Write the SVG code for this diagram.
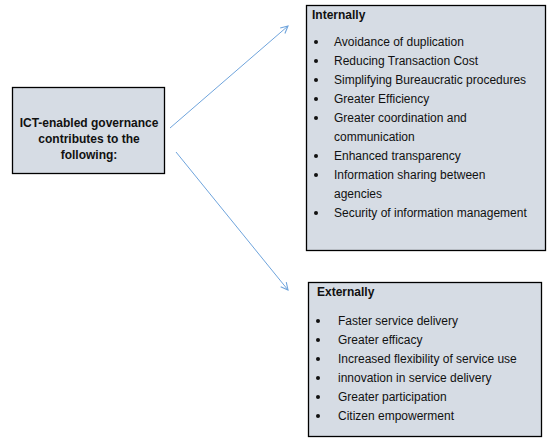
<svg xmlns="http://www.w3.org/2000/svg" width="548" height="443" viewBox="0 0 548 443">
<style>
.box{fill:#D6DCE4;stroke:#000;stroke-width:1.3}
.t{font-family:"Liberation Sans",Arial,sans-serif;font-size:12px;fill:#111}
.b{font-weight:bold}
.c{text-anchor:middle}
.conn{stroke:#6FA4DC;stroke-width:1;fill:none}
</style>
<defs>
<marker id="ah" viewBox="0 0 10 10" refX="9" refY="5" markerWidth="9" markerHeight="9" orient="auto" markerUnits="userSpaceOnUse">
<path d="M1,1 L9,5 L1,9" fill="none" stroke="#6FA4DC" stroke-width="1.2"/>
</marker>
</defs>
<rect width="548" height="443" fill="#fff"/>
<g id="connectors">
<line class="conn" x1="170" y1="128" x2="288" y2="26" marker-end="url(#ah)"/>
<line class="conn" x1="176" y1="152" x2="288" y2="290" marker-end="url(#ah)"/>
</g>
<g id="source">
<rect class="box" x="12.5" y="87.5" width="152" height="86"/>
<text class="t b c" x="89" y="127">ICT-enabled governance</text>
<text class="t b c" x="89" y="143">contributes to the</text>
<text class="t b c" x="89" y="159">following:</text>
</g>
<g id="internally">
<rect class="box" x="306.5" y="5.5" width="239" height="245"/>
<text class="t b" x="312" y="19">Internally</text>
<g class="t">
<circle cx="316" cy="42" r="2"/><text x="334" y="46">Avoidance of duplication</text>
<circle cx="316" cy="61" r="2"/><text x="334" y="65">Reducing Transaction Cost</text>
<circle cx="316" cy="80" r="2"/><text x="334" y="84">Simplifying Bureaucratic procedures</text>
<circle cx="316" cy="99" r="2"/><text x="334" y="103">Greater Efficiency</text>
<circle cx="316" cy="118" r="2"/><text x="334" y="122">Greater coordination and</text>
<text x="334" y="141">communication</text>
<circle cx="316" cy="156" r="2"/><text x="334" y="160">Enhanced transparency</text>
<circle cx="316" cy="175" r="2"/><text x="334" y="179">Information sharing between</text>
<text x="334" y="198">agencies</text>
<circle cx="316" cy="213" r="2"/><text x="334" y="217">Security of information management</text>
</g>
</g>
<g id="externally">
<rect class="box" x="308.5" y="282.5" width="233" height="154"/>
<text class="t b" x="317" y="296">Externally</text>
<g class="t">
<circle cx="318" cy="321" r="2"/><text x="338" y="325">Faster service delivery</text>
<circle cx="318" cy="340" r="2"/><text x="338" y="344">Greater efficacy</text>
<circle cx="318" cy="359" r="2"/><text x="338" y="363">Increased flexibility of service use</text>
<circle cx="318" cy="378" r="2"/><text x="338" y="382">innovation in service delivery</text>
<circle cx="318" cy="397" r="2"/><text x="338" y="401">Greater participation</text>
<circle cx="318" cy="416" r="2"/><text x="338" y="420">Citizen empowerment</text>
</g>
</g>
</svg>
